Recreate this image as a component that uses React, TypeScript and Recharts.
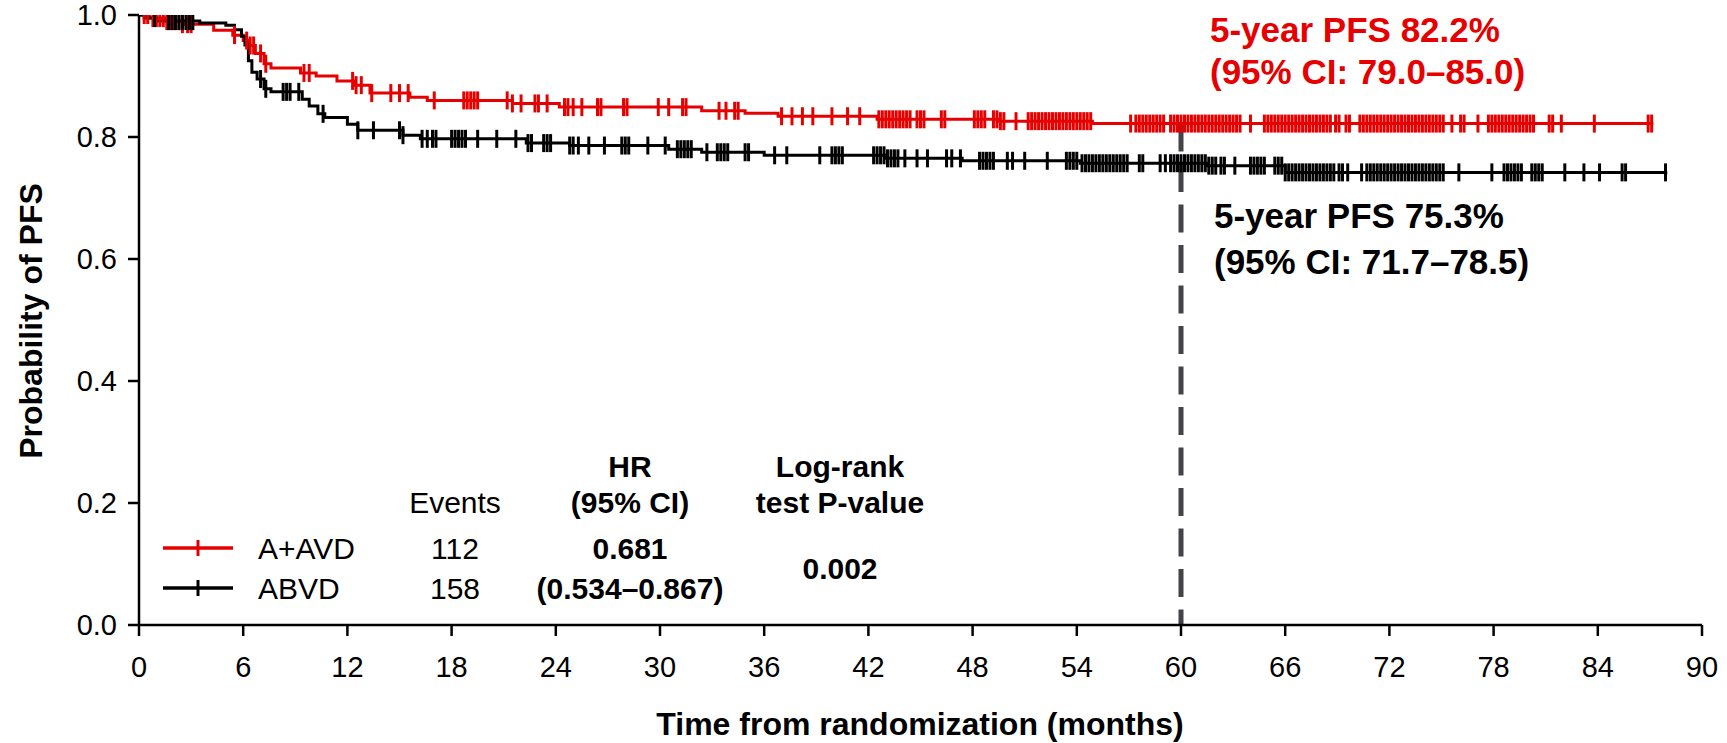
import React from "react";
import { ComposedChart, Line, Scatter, XAxis, YAxis, ReferenceLine } from "recharts";

const FONT = "'Liberation Sans', Arial, Helvetica, sans-serif";
const RED = "#E60000";
const BLACK = "#000000";

const xTicks = [0, 6, 12, 18, 24, 30, 36, 42, 48, 54, 60, 66, 72, 78, 84, 90];
const yTicks = [0, 0.2, 0.4, 0.6, 0.8, 1.0];

// A+AVD (red) Kaplan-Meier steps
const redStepTimes = [0, 0.6, 1.5, 2.5, 4.3, 5.4, 6.0, 6.3, 6.7, 7.2, 7.6, 9.3, 10.2, 11.4, 12.4, 13.3, 15.6, 16.6, 21.5, 24.2, 32.4, 34.9, 36.8, 42.5, 49.5, 54.9];
const redStepSurv = [1.0, 0.995, 0.99, 0.985, 0.975, 0.967, 0.958, 0.95, 0.937, 0.92, 0.913, 0.905, 0.9, 0.892, 0.885, 0.872, 0.865, 0.86, 0.855, 0.849, 0.843, 0.839, 0.834, 0.829, 0.826, 0.822];
const redEnd = 87.2;
const redCensorTimes = [0.3, 0.5, 0.8, 1.0, 1.2, 1.4, 1.6, 1.8, 2.0, 2.3, 2.5, 2.8, 3.0, 5.5, 6.2, 6.4, 6.6, 7.0, 7.3, 9.5, 9.8, 12.3, 12.5, 12.8, 13.4, 14.5, 15.0, 15.5, 17.0, 18.7, 18.9, 19.1, 19.3, 19.5, 21.2, 21.5, 22.0, 22.8, 23.0, 23.5, 24.5, 24.7, 25.0, 25.5, 26.4, 26.6, 27.9, 28.1, 29.9, 30.5, 31.3, 31.5, 33.4, 33.8, 34.3, 34.5, 37.0, 37.6, 38.2, 38.8, 39.9, 40.8, 41.5,
  42.6, 42.8, 43.0, 43.2, 43.4, 43.6, 43.8, 44.0, 44.2, 44.4, 44.8, 45.0, 45.2, 46.2, 46.4, 48.1, 48.3, 48.5, 48.7, 49.2, 49.4, 49.6, 49.8, 50.5, 51.2, 51.4, 51.6, 51.8, 52.0, 52.2, 52.4, 52.6, 52.8, 53.0, 53.2, 53.4, 53.6, 53.8, 54.0, 54.2, 54.4, 54.6, 54.8,
  57.1, 57.4, 57.6, 57.8, 58.0, 58.2, 58.4, 58.6, 58.8, 59.0, 59.4, 59.6, 59.8, 60.0, 60.2, 60.4, 60.6, 60.8, 61.0, 61.2, 61.4, 61.6, 61.8, 62.0, 62.2, 62.4, 62.6, 62.8, 63.0, 63.2, 63.4, 64.0,
  64.8, 65.0, 65.2, 65.4, 65.6, 65.8, 66.0, 66.2, 66.4, 66.6, 66.8, 67.0, 67.2, 67.4, 67.6, 67.8, 68.0, 68.2, 68.4, 68.6, 68.9, 69.1, 69.5, 69.7,
  70.3, 70.5, 70.7, 70.9, 71.1, 71.3, 71.5, 71.7, 71.9, 72.1, 72.3, 72.5, 72.7, 72.9, 73.1, 73.3, 73.5, 73.7, 73.9, 74.1, 74.3, 74.5, 74.7, 74.9, 75.1, 75.6, 76.1, 76.3, 77.1,
  77.7, 77.9, 78.1, 78.3, 78.5, 78.7, 78.9, 79.1, 79.3, 79.5, 79.7, 79.9, 80.1, 80.3, 81.2, 81.4, 81.9, 83.8, 86.9, 87.1];

// ABVD (black) Kaplan-Meier steps
const blackStepTimes = [0, 0.3, 1.0, 3.5, 5.0, 5.5, 5.9, 6.1, 6.3, 6.5, 6.8, 7.2, 7.6, 9.4, 9.8, 10.3, 10.7, 12.0, 12.6, 15.2, 16.2, 22.3, 24.8, 30.5, 32.4, 36.0, 43.0, 47.4, 54.2, 61.5, 66.0];
const blackStepSurv = [1.0, 0.995, 0.99, 0.987, 0.983, 0.976, 0.965, 0.951, 0.925, 0.906, 0.895, 0.879, 0.874, 0.862, 0.851, 0.838, 0.832, 0.821, 0.811, 0.803, 0.797, 0.79, 0.786, 0.78, 0.775, 0.77, 0.765, 0.761, 0.757, 0.753, 0.742];
const blackEnd = 88.0;
const blackCensorTimes = [0.9, 1.7, 1.9, 2.1, 2.3, 2.5, 2.7, 2.9, 3.1, 7.0, 7.3, 8.3, 8.5, 8.7, 9.2, 10.6, 12.6, 13.5, 15.0, 15.2, 16.3, 16.6, 16.9, 17.1, 18.0, 18.2, 18.4, 18.6, 18.8, 19.5, 20.6, 21.7, 22.4, 22.6, 23.3, 23.5, 23.7, 24.8, 25.0, 25.3, 25.9, 26.8, 27.8, 28.0, 28.2, 29.3, 30.3, 31.0, 31.2, 31.4, 31.6, 31.8, 32.7, 33.3, 33.5, 33.7, 33.9, 34.9, 35.1, 36.6, 37.3, 39.2, 39.9, 40.1, 40.3, 40.5,
  42.3, 42.5, 42.7, 42.9, 43.1, 43.3, 43.5, 43.7, 44.1, 44.8, 45.4, 46.5, 46.8, 47.3, 48.4, 48.6, 48.8, 49.0, 49.2, 50.0, 50.3, 51.0, 52.3,
  53.4, 53.6, 53.8, 54.0, 54.3, 54.5, 54.7, 54.9, 55.1, 55.3, 55.5, 55.7, 55.9, 56.1, 56.3, 56.5, 56.7, 56.9, 57.6, 57.8, 58.8, 59.1,
  59.4, 59.6, 59.8, 60.0, 60.2, 60.4, 60.6, 60.8, 61.0, 61.2, 61.4, 61.6, 61.8, 62.0, 62.3, 62.5, 63.1, 64.0, 64.2, 64.4, 64.6, 64.8,
  65.4, 65.6, 65.8, 66.0, 66.2, 66.4, 66.6, 66.8, 67.0, 67.2, 67.4, 67.6, 67.8, 68.0, 68.2, 68.4, 68.6, 68.8, 69.1, 69.3, 69.6,
  70.4, 70.7, 70.9, 71.1, 71.3, 71.5, 71.7, 71.9, 72.1, 72.3, 72.5, 72.7, 72.9, 73.1, 73.3, 73.5, 73.7, 73.9, 74.1, 74.3, 74.5, 74.7, 74.9, 75.1,
  76.0, 77.9, 78.6, 78.8, 79.0, 79.2, 79.4, 79.6, 80.2, 80.4, 80.6, 80.8, 82.1, 83.2, 84.1, 85.4, 85.6, 87.9];

const landmarkMonth = 60;
const landmarkRed = 0.822;

function buildCurve(times: number[], surv: number[], end: number) {
  const pts = times.map((t, i) => ({ t, s: surv[i] }));
  pts.push({ t: end, s: surv[surv.length - 1] });
  return pts;
}
function survAt(times: number[], surv: number[], t: number) {
  let v = surv[0];
  for (let i = 0; i < times.length; i++) if (times[i] <= t) v = surv[i];
  return v;
}
function buildCensors(censor: number[], times: number[], surv: number[]) {
  return censor.map((t) => ({ t, s: survAt(times, surv, t) }));
}

const redCurve = buildCurve(redStepTimes, redStepSurv, redEnd);
const blackCurve = buildCurve(blackStepTimes, blackStepSurv, blackEnd);
const redCensors = buildCensors(redCensorTimes, redStepTimes, redStepSurv);
const blackCensors = buildCensors(blackCensorTimes, blackStepTimes, blackStepSurv);

const censorShape = (color: string) => (props: any) => {
  const { cx, cy } = props;
  if (cx == null || cy == null) return <g />;
  return <line x1={cx} x2={cx} y1={cy - 9} y2={cy + 9} stroke={color} strokeWidth={3} />;
};

const W = 1727;
const H = 743;

export default function App() {
  const tickStyle = { fill: "#000", fontSize: 29, fontFamily: FONT };
  return (
    <div style={{ position: "absolute", left: 0, top: 0, width: W, height: H, background: "#fff" }}>
      <ComposedChart width={W} height={H} margin={{ top: 15, right: 25, bottom: 0, left: 0 }}>
        <XAxis
          dataKey="t"
          type="number"
          domain={[0, 90]}
          ticks={xTicks}
          interval={0}
          height={118}
          tickSize={11}
          tickMargin={20}
          axisLine={{ stroke: "#000", strokeWidth: 2.5 }}
          tickLine={{ stroke: "#000", strokeWidth: 2.5 }}
          tick={tickStyle}
          allowDataOverflow
        />
        <YAxis
          type="number"
          domain={[0, 1]}
          ticks={yTicks}
          interval={0}
          width={139}
          tickSize={11}
          tickMargin={11}
          tickFormatter={(v: number) => v.toFixed(1)}
          axisLine={{ stroke: "#000", strokeWidth: 2.5 }}
          tickLine={{ stroke: "#000", strokeWidth: 2.5 }}
          tick={tickStyle}
          allowDataOverflow
        />
        <ReferenceLine
          segment={[{ x: landmarkMonth, y: landmarkRed }, { x: landmarkMonth, y: 0 }]}
          stroke="#444448"
          strokeWidth={5}
          strokeDasharray="28 12.5"
        />
        <Line data={redCurve} dataKey="s" type="stepAfter" stroke={RED} strokeWidth={3} dot={false} isAnimationActive={false} />
        <Scatter data={redCensors} dataKey="s" fill={RED} shape={censorShape(RED)} isAnimationActive={false} />
        <Line data={blackCurve} dataKey="s" type="stepAfter" stroke={BLACK} strokeWidth={3} dot={false} isAnimationActive={false} />
        <Scatter data={blackCensors} dataKey="s" fill={BLACK} shape={censorShape(BLACK)} isAnimationActive={false} />
      </ComposedChart>
      <svg width={W} height={H} style={{ position: "absolute", left: 0, top: 0, pointerEvents: "none" }} fontFamily={FONT}>
        <text x={42} y={321} transform="rotate(-90, 42, 321)" textAnchor="middle" fontWeight="bold" fontSize={32} fill="#000">Probability of PFS</text>
        <text x={920} y={735} textAnchor="middle" fontWeight="bold" fontSize={32} fill="#000">Time from randomization (months)</text>

        <text x={1210} y={42} fontWeight="bold" fontSize={35} fill={RED}>5-year PFS 82.2%</text>
        <text x={1210} y={84} fontWeight="bold" fontSize={35} fill={RED}>(95% CI: 79.0–85.0)</text>
        <text x={1214} y={228} fontWeight="bold" fontSize={35} fill="#000">5-year PFS 75.3%</text>
        <text x={1214} y={274} fontWeight="bold" fontSize={35} fill="#000">(95% CI: 71.7–78.5)</text>

        <text x={455} y={513} textAnchor="middle" fontSize={30} fill="#000">Events</text>
        <text x={630} y={477} textAnchor="middle" fontWeight="bold" fontSize={30} fill="#000">HR</text>
        <text x={630} y={513} textAnchor="middle" fontWeight="bold" fontSize={30} fill="#000">(95% CI)</text>
        <text x={840} y={477} textAnchor="middle" fontWeight="bold" fontSize={30} fill="#000">Log-rank</text>
        <text x={840} y={513} textAnchor="middle" fontWeight="bold" fontSize={30} fill="#000">test P-value</text>

        <line x1={163} x2={233} y1={548} y2={548} stroke={RED} strokeWidth={3.5} />
        <line x1={198} x2={198} y1={540} y2={556} stroke={RED} strokeWidth={3} />
        <line x1={163} x2={233} y1={588} y2={588} stroke={BLACK} strokeWidth={3.5} />
        <line x1={198} x2={198} y1={580} y2={596} stroke={BLACK} strokeWidth={3} />

        <text x={258} y={559} fontSize={30} fill="#000">A+AVD</text>
        <text x={258} y={599} fontSize={30} fill="#000">ABVD</text>
        <text x={455} y={559} textAnchor="middle" fontSize={30} fill="#000">112</text>
        <text x={455} y={599} textAnchor="middle" fontSize={30} fill="#000">158</text>
        <text x={630} y={559} textAnchor="middle" fontWeight="bold" fontSize={30} fill="#000">0.681</text>
        <text x={630} y={599} textAnchor="middle" fontWeight="bold" fontSize={30} fill="#000">(0.534–0.867)</text>
        <text x={840} y={579} textAnchor="middle" fontWeight="bold" fontSize={30} fill="#000">0.002</text>
      </svg>
    </div>
  );
}
